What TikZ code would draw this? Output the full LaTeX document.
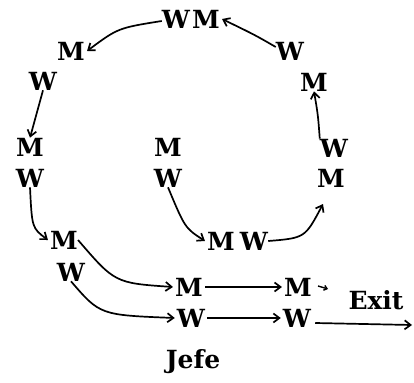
\documentclass[tikz,border=0pt]{standalone}
\usepackage{fontspec}
\setmainfont{DejaVu Serif}
\usetikzlibrary{arrows.meta}
\begin{document}
\begin{tikzpicture}[x=1pt,y=-1pt,
  lt/.style={inner sep=0pt,font=\fontsize{25}{30}\selectfont\bfseries},
  arr/.style={line width=1.7pt,-{Straight Barb[length=6pt,width=9pt,line width=1.7pt]}}]
\useasboundingbox (0,0) rectangle (414,382);
% top arc
\node[lt] (tw) at (176,19) {W};
\node[lt] (tm) at (206,19) {M};
\node[lt] (m1) at (71,51) {M};
\node[lt] (w2) at (290,51) {W};
\node[lt] (w1) at (43,81) {W};
\node[lt] (m2) at (314,82) {M};
% middle row
\node[lt] (lm) at (30,147) {M};
\node[lt] (lw) at (30,178) {W};
\node[lt] (cm) at (168,147) {M};
\node[lt] (cw) at (168,178) {W};
\node[lt] (rw) at (334,148) {W};
\node[lt] (rm) at (331,178) {M};
% lower
\node[lt] (bm) at (64,240) {M};
\node[lt] (bw) at (71,272) {W};
\node[lt] (mm) at (221,241) {M};
\node[lt] (mw) at (254,241) {W};
\node[lt] (pm) at (189,287) {M};
\node[lt] (pw) at (191,318) {W};
\node[lt] (qm) at (298,287) {M};
\node[lt] (qw) at (297,318) {W};
\node[lt] (exit) at (376,300) {Exit};
\node[lt] (jefe) at (193,362) {Jefe};
\coordinate (rmend) at (323,204);
\coordinate (out) at (412,325);
% connectors
\draw[arr] ([yshift=4pt]w2.west) .. controls (255,35) .. ([xshift=2pt]tm.east);
\draw[arr] ([yshift=-2pt]tw.west) .. controls (118,28) .. ([xshift=2pt]m1.east);
\draw[arr] (w1.south) -- (lm.north);
\draw[arr] (rw.north west) .. controls (318,115) .. (m2.south);
\draw[arr] (lw.south) .. controls (32,228) .. ([xshift=-2pt]bm.west);
\draw[arr] (cw.south) .. controls (185,228) .. ([xshift=-2pt]mm.west);
\draw[arr] (mw.east) .. controls (305,238) .. (rmend);
\draw[arr] (bm.east) .. controls (115,283) .. ([xshift=-2pt]pm.west);
\draw[arr] (bw.south) .. controls (100,315) .. ([xshift=-2pt]pw.west);
\draw[arr] ([xshift=2pt]pm.east) -- ([xshift=-2pt]qm.west);
\draw[arr] ([xshift=2pt]pw.east) -- ([xshift=-2pt]qw.west);
\draw[line width=1.4pt,-{Straight Barb[length=3pt,width=5pt,line width=1.4pt]}] ([xshift=6pt,yshift=1pt]qm.east) -- ([xshift=16pt,yshift=-2pt]qm.east);
\draw[arr] ([xshift=4pt,yshift=-5pt]qw.east) -- (out);
\end{tikzpicture}
\end{document}
